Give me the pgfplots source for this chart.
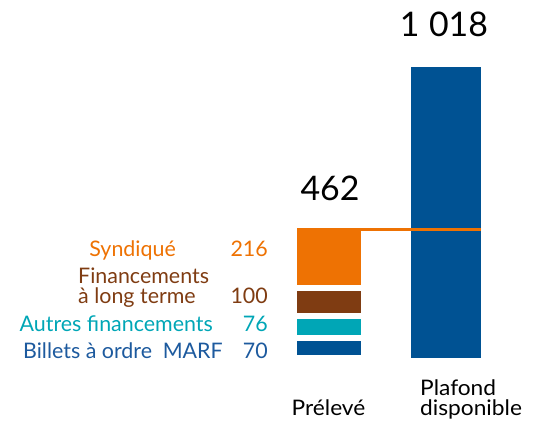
\documentclass[border=0pt]{standalone}
\usepackage{fontspec}
\setmainfont{Lato}
\newfontfamily\widefont[FakeStretch=1.06]{Lato}
\usepackage{pgfplots}
\pgfplotsset{compat=1.18}
\definecolor{cOr}{HTML}{EE7203}
\definecolor{cBr}{HTML}{7F3C12}
\definecolor{cTe}{HTML}{00A6B6}
\definecolor{cBl}{HTML}{005293}
\definecolor{cBlT}{HTML}{1D5A9E}
\begin{document}
\begin{tikzpicture}[x=1bp,y=1bp]
\useasboundingbox (0,0) rectangle (537,428);
\pgfplotsset{base/.style={at={(0,0)}, anchor=south west, scale only axis,
  width=537bp, height=428bp, xmin=0, xmax=537, ymin=-244.9, ymax=1252.4,
  axis lines=none, clip=false}}
\begin{axis}[base, ybar stacked, bar width=70bp]
\addplot[fill=cBl, draw=white, line width=6bp] coordinates {(329,70)};
\addplot[fill=cTe, draw=white, line width=6bp] coordinates {(329,76)};
\addplot[fill=cBr, draw=white, line width=6bp] coordinates {(329,100)};
\addplot[fill=cOr, draw=white, line width=6bp] coordinates {(329,216)};
\end{axis}
\begin{axis}[base]
\addplot[ybar, bar width=70bp, fill=cBl, draw=none] coordinates {(446,1018)};
\addplot[cOr, line width=3bp, sharp plot, mark=none] coordinates {(297,449.5) (481,449.5)};
\end{axis}
\def\fs{\fontsize{21.5}{26}\selectfont}
\def\fb{\widefont\fontsize{21.5}{26}\selectfont}
\tikzset{every node/.style={inner sep=0pt}}
\node[anchor=base east, text=cOr, font=\fs] at (176,171.3) {Syndiqué};
\node[anchor=base east, text=cOr, font=\fs] at (268,171.3) {216};
\node[anchor=base west, text=cBr, font=\fs] at (78,144.7) {Financements};
\node[anchor=base west, text=cBr, font=\fs] at (78,124.7) {à long terme};
\node[anchor=base east, text=cBr, font=\fs] at (268,124.7) {100};
\node[anchor=base east, text=cTe, font=\fs] at (213,96.3) {Autres financements};
\node[anchor=base east, text=cTe, font=\fs] at (268,96.3) {76};
\node[anchor=base west, text=cBlT, font=\fs] at (23,69.7) {Billets à ordre\hspace{0.5em}MARF};
\node[anchor=base east, text=cBlT, font=\fs] at (268,69.7) {70};
\node[anchor=base, font=\fontsize{34}{40}\selectfont] at (330,228) {462};
\node[anchor=base, font=\fontsize{34}{40}\selectfont] at (444,391.3) {1\hspace{0.28em}018};
\node[anchor=base, font=\fb] at (328.5,13) {Prélevé};
\node[anchor=base west, font=\fb] at (420,33) {Plafond};
\node[anchor=base west, font=\fb] at (420,13) {disponible};
\end{tikzpicture}
\end{document}
